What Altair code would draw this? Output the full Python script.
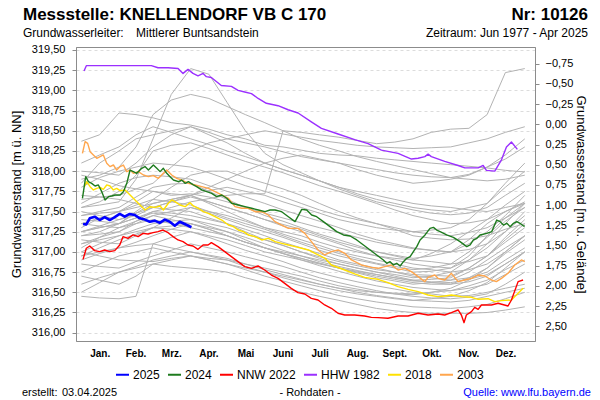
import altair as alt
import pandas as pd

FONT = "Liberation Sans"

# ---------------- data ----------------
month_days = [0, 31, 59, 90, 120, 151, 181, 212, 243, 273, 304, 334, 365]
month_mid = [15.5, 45, 74.5, 105, 135.5, 166, 196.5, 227.5, 258, 288.5, 319, 349.5]
month_labels = ["Jan.", "Feb.", "Mrz.", "Apr.", "Mai", "Juni", "Juli", "Aug.", "Sept.", "Okt.", "Nov.", "Dez."]

level_ticks = [316.00, 316.25, 316.50, 316.75, 317.00, 317.25, 317.50, 317.75,
               318.00, 318.25, 318.50, 318.75, 319.00, 319.25, 319.50]
depth_ticks = [-0.75, -0.50, -0.25, 0.00, 0.25, 0.50, 0.75, 1.00, 1.25, 1.50,
               1.75, 2.00, 2.25, 2.50]

series_names = ["2025", "2024", "NNW 2022", "HHW 1982", "2018", "2003"]
series_colors = ["#0000FF", "#1E7B1E", "#FF0000", "#9B30FF", "#FFE100", "#FFA64D"]

d2025 = [1.4, 4.1, 6.9, 11, 15.1, 19.2, 23.4, 27.5, 31.6, 35.7, 39.8, 44, 48.1, 52.2,
         56.3, 60.4, 64.5, 68.7, 72.8, 76.9, 81, 85.1, 90.6]
v2025 = [317.346, 317.34, 317.416, 317.436, 317.395, 317.43, 317.395, 317.43, 317.47,
         317.436, 317.47, 317.457, 317.416, 317.40, 317.374, 317.387, 317.36, 317.40,
         317.374, 317.325, 317.374, 317.346, 317.305]

d2024 = [0.9, 3.6, 5.8, 8.5, 11.3, 14, 16.8, 19.5, 22.3, 25, 27.7, 31.9, 34.6, 37.4, 40.1,
         42.8, 45.6, 49.7, 52.4, 55.2, 59.3, 62.1, 64.8, 67.5, 70.3, 73, 75.8, 79.9, 82.6,
         85.4, 88.1, 92.2, 94.9, 99.1, 103.2, 107.3, 111.4, 115.6, 119.7, 123.7, 129.2,
         134.7, 140.2, 145.7, 151.2, 155.3, 159.4, 164.9, 170.4, 175.9, 181.4, 185.5,
         189.6, 193.7, 199.2, 204.7, 210.2, 215.7, 221.2, 226.7, 232.2, 237.7, 243.1,
         248.6, 251.4, 254.1, 256.9, 259.6, 262.4, 265.1, 267.8, 270.6, 273.3, 276.1,
         278.8, 282.9, 287, 289.8, 292.5, 295.3, 300.7, 306.2, 311.7, 317.2, 320, 322.7,
         325.5, 328.2, 333.7, 337.8, 341.9, 344.7, 347.4, 350.2, 352.9, 355.7, 358.4,
         361.1, 363.9, 365]
v2024 = [317.664, 317.932, 317.87, 317.849, 317.816, 317.829, 317.746, 317.643, 317.684,
         317.692, 317.705, 317.705, 317.746, 317.849, 318.014, 317.994, 317.973, 318.035,
         318.056, 318.014, 318.076, 318.035, 317.994, 318.035, 317.973, 317.932, 317.89,
         317.87, 317.89, 317.849, 317.87, 317.829, 317.808, 317.767, 317.746, 317.725,
         317.684, 317.705, 317.664, 317.602, 317.581, 317.56, 317.54, 317.519, 317.498,
         317.519, 317.519, 317.498, 317.436, 317.375, 317.527, 317.519, 317.457, 317.436,
         317.375, 317.313, 317.251, 317.21, 317.197, 317.148, 317.086, 317.024, 316.962,
         316.90, 316.859, 316.879, 316.838, 316.859, 316.826, 316.879, 316.921, 316.941,
         317.003, 317.065, 317.148, 317.21, 317.292, 317.304, 317.271, 317.251, 317.21,
         317.181, 317.127, 317.065, 317.086, 317.148, 317.168, 317.21, 317.23, 317.251,
         317.395, 317.375, 317.333, 317.354, 317.313, 317.354, 317.375, 317.354, 317.321,
         317.321]

d2022 = [1.4, 4.1, 6.9, 11, 15.1, 19.2, 23.4, 27.5, 31.6, 34.3, 38.4, 42.6, 46.7, 50.8,
         54.9, 59, 63.1, 67.3, 71.4, 75.5, 79.6, 83.7, 87.8, 91.9, 96, 100.2, 104.3, 107,
         112.5, 118, 123.5, 129, 134.5, 139.9, 145.4, 150.9, 156.4, 161.9, 167.4, 172.8,
         178.3, 183.9, 189.3, 194.8, 200.3, 205.8, 211.3, 216.8, 225, 233.2, 238.7, 244.2,
         252.4, 260.7, 268.9, 277.2, 285.4, 293.6, 299.1, 304.6, 310.1, 312.8, 315, 316.9,
         321.1, 323.8, 326.6, 329.3, 337.5, 343, 351.2, 354, 359.5, 363.6]
v2022 = [316.908, 317.045, 317.073, 317.016, 317.003, 317.024, 317.003, 317.016, 317.086,
         317.189, 317.168, 317.21, 317.189, 317.23, 317.222, 317.238, 317.251, 317.271,
         317.238, 317.189, 317.148, 317.127, 317.086, 317.073, 317.032, 317.086, 317.086,
         317.115, 317.065, 317.003, 316.941, 316.879, 316.818, 316.797, 316.826, 316.776,
         316.714, 316.673, 316.611, 316.549, 316.496, 316.479, 316.425, 316.405, 316.343,
         316.302, 316.24, 316.219, 316.219, 316.207, 316.19, 316.186, 316.178, 316.207,
         316.207, 316.24, 316.219, 316.231, 316.219, 316.248, 316.281, 316.219, 316.124,
         316.219, 316.26, 316.314, 316.289, 316.343, 316.343, 316.364, 316.33, 316.405,
         316.632, 316.652]

d1982 = [2.2, 4.1, 57.6, 63.1, 71.4, 79.6, 83.7, 87.8, 91.9, 96, 100.2, 102.9, 107, 115.2,
         123.5, 129, 134.5, 140, 145.5, 152.3, 161.9, 170.2, 178.4, 189.3, 197.6, 211.3,
         225, 236, 247, 260.7, 271.7, 277.2, 282.7, 285.4, 288.1, 299.1, 310.1, 315.6,
         326.6, 330.7, 333.4, 340.3, 345.8, 349.9, 354, 358.9]
v1982 = [319.24, 319.306, 319.306, 319.28, 319.28, 319.27, 319.21, 319.26, 319.21, 319.18,
         319.21, 319.17, 319.16, 319.06, 319.05, 319.00, 318.98, 318.96, 318.90, 318.84,
         318.81, 318.76, 318.72, 318.61, 318.53, 318.46, 318.39, 318.34, 318.26, 318.22,
         318.15, 318.16, 318.18, 318.21, 318.18, 318.12, 318.07, 318.04, 318.04, 318.07,
         318.01, 318.00, 318.14, 318.30, 318.36, 318.27]

d2018 = [2.5, 4.4, 7.2, 9.9, 12.7, 15.4, 18.1, 20.9, 23.6, 26.3, 29.1, 31.9, 36, 40.1,
         44.2, 48.3, 52.4, 56.6, 60.7, 64.8, 67.5, 71.6, 74.4, 77.1, 81.2, 85.4, 89.5,
         92.2, 96.3, 100.4, 104.5, 110, 115.6, 121, 125.1, 129.2, 133.4, 137.5, 143, 148.5,
         153.9, 159.5, 165, 170.4, 175.9, 181.4, 186.9, 192.4, 197.9, 200.6, 205.8, 216.8,
         225, 233.2, 238.7, 244.2, 252.4, 260.7, 268.9, 277.2, 285.4, 293.6, 299.1, 304.6,
         312.8, 321.1, 326.6, 334.8, 340.3, 345.8, 354, 359.5, 363.6]
v2018 = [317.808, 317.87, 317.808, 317.767, 317.787, 317.80, 317.775, 317.829, 317.816,
         317.767, 317.787, 317.758, 317.767, 317.705, 317.643, 317.581, 317.519, 317.56,
         317.552, 317.569, 317.519, 317.602, 317.643, 317.622, 317.581, 317.56, 317.61,
         317.569, 317.54, 317.498, 317.478, 317.436, 317.395, 317.333, 317.313, 317.271,
         317.251, 317.21, 317.189, 317.148, 317.168, 317.127, 317.106, 317.086, 317.065,
         317.045, 317.024, 316.983, 316.941, 316.921, 316.838, 316.776, 316.727, 316.685,
         316.673, 316.661, 316.619, 316.57, 316.537, 316.508, 316.467, 316.446, 316.454,
         316.467, 316.446, 316.438, 316.413, 316.421, 316.384, 316.397, 316.405, 316.487,
         316.549]

d2003 = [0.9, 3.1, 5.2, 7.2, 9.9, 12.7, 15.4, 18.1, 20.9, 23.6, 26.4, 29.1, 31.9, 34.6,
         37.3, 40.1, 42.8, 46.9, 51.1, 55.2, 59.3, 63.4, 67.5, 70.3, 74.4, 78.5, 82.6, 88.1,
         93.6, 99.1, 104.6, 110, 115.5, 121, 126.5, 132, 137.5, 143, 148.5, 153.9, 159.4,
         164.9, 170.4, 178.4, 183.9, 189.4, 194.8, 200.3, 205.8, 211.3, 216.8, 222.3,
         230.5, 238.7, 244.2, 249.7, 255.2, 260.7, 266.2, 271.7, 277.2, 282.7, 285.4,
         290.9, 293.6, 299.1, 304.6, 310.1, 315.6, 321.1, 326.6, 332.1, 337.5, 341.6,
         345.8, 351.2, 356.7, 362.2, 365]
v2003 = [318.221, 318.365, 318.344, 318.241, 318.20, 318.159, 318.179, 318.20, 318.097,
         318.056, 318.076, 318.014, 318.056, 318.076, 317.994, 318.014, 317.973, 317.994,
         317.952, 317.932, 317.944, 317.911, 317.973, 318.014, 317.952, 317.911, 317.89,
         317.849, 317.829, 317.808, 317.787, 317.746, 317.705, 317.664, 317.56, 317.54,
         317.54, 317.498, 317.498, 317.457, 317.375, 317.333, 317.292, 317.292, 317.23,
         317.127, 317.024, 316.962, 317.003, 317.024, 316.983, 316.90, 316.838, 316.809,
         316.797, 316.818, 316.838, 316.776, 316.797, 316.756, 316.694, 316.632, 316.685,
         316.714, 316.673, 316.652, 316.735, 316.632, 316.652, 316.673, 316.714, 316.702,
         316.652, 316.632, 316.673, 316.735, 316.838, 316.90, 316.879]

# other years (grey), read roughly every half month
gray_days = [0, 15, 31, 45, 59, 74, 90, 105, 120, 135, 151, 166, 181, 196, 212, 227,
             243, 258, 273, 288, 304, 319, 334, 349, 365]
gray_lines = [
    [318.37, 318.45, 318.72, 318.70, 318.66, 318.60, 318.57, 318.52, 318.45, 318.40, 318.32, 318.30, 318.26, 318.22, 318.20, 318.19, 318.16, 318.14, 318.12, 318.10, 318.08, 318.06, 318.04, 318.01, 317.99],
    [317.55, 317.58, 317.62, 317.90, 318.40, 318.95, 319.27, 319.20, 318.85, 318.50, 318.22, 318.08, 317.98, 317.88, 317.78, 317.70, 317.62, 317.57, 317.52, 317.48, 317.46, 317.48, 317.55, 317.70, 317.85],
    [317.25, 317.30, 317.35, 317.42, 317.50, 317.55, 317.62, 317.66, 317.70, 317.72, 317.72, 318.50, 318.48, 318.45, 318.42, 318.38, 318.34, 318.36, 318.40, 318.48, 318.52, 318.53, 318.70, 319.22, 319.27],
    [317.90, 317.95, 318.05, 318.30, 318.70, 318.88, 318.95, 318.90, 318.80, 318.70, 318.60, 318.50, 318.40, 318.32, 318.25, 318.18, 318.12, 318.07, 318.02, 317.97, 317.92, 317.90, 317.88, 317.90, 317.95],
    [317.85, 318.10, 318.25, 318.40, 318.45, 318.50, 318.55, 318.48, 318.40, 318.35, 318.30, 318.24, 318.18, 318.14, 318.10, 318.06, 318.02, 317.98, 317.95, 317.93, 317.92, 317.96, 318.05, 318.20, 318.40],
    [318.00, 317.98, 317.95, 318.10, 318.30, 318.45, 318.55, 318.45, 318.35, 318.22, 318.10, 318.02, 317.95, 317.88, 317.80, 317.75, 317.70, 317.65, 317.60, 317.57, 317.55, 317.52, 317.50, 317.55, 317.60],
    [318.10, 318.20, 318.30, 318.45, 318.55, 318.48, 318.40, 318.33, 318.25, 318.18, 318.10, 318.02, 317.95, 317.88, 317.80, 317.72, 317.65, 317.60, 317.55, 317.52, 317.50, 317.55, 317.60, 317.80, 318.00],
    [317.65, 317.68, 317.70, 317.78, 317.85, 318.05, 318.25, 318.35, 318.40, 318.45, 318.50, 318.46, 318.42, 318.38, 318.35, 318.32, 318.30, 318.29, 318.28, 318.29, 318.30, 318.35, 318.40, 318.48, 318.55],
    [317.45, 317.48, 317.50, 317.55, 317.60, 317.65, 317.70, 317.80, 317.90, 318.00, 318.10, 318.16, 318.20, 318.15, 318.10, 318.02, 317.95, 317.90, 317.85, 317.87, 317.90, 317.95, 318.05, 318.15, 318.30],
    [317.80, 317.92, 318.00, 318.05, 318.10, 318.08, 318.05, 317.98, 317.90, 317.82, 317.75, 317.68, 317.60, 317.52, 317.45, 317.40, 317.35, 317.30, 317.25, 317.22, 317.20, 317.24, 317.30, 317.42, 317.55],
    [317.55, 317.62, 317.75, 317.95, 318.25, 318.32, 318.35, 318.28, 318.20, 318.12, 318.05, 317.98, 317.90, 317.82, 317.75, 317.68, 317.60, 317.52, 317.45, 317.40, 317.35, 317.36, 317.40, 317.50, 317.60],
    [317.40, 317.38, 317.35, 317.50, 317.65, 317.80, 317.95, 318.00, 318.00, 317.92, 317.85, 317.78, 317.70, 317.60, 317.50, 317.42, 317.35, 317.28, 317.20, 317.17, 317.15, 317.16, 317.20, 317.28, 317.35],
    [317.70, 317.68, 317.65, 317.60, 317.55, 317.62, 317.70, 317.76, 317.80, 317.75, 317.70, 317.62, 317.55, 317.48, 317.40, 317.35, 317.30, 317.27, 317.25, 317.27, 317.30, 317.40, 317.60, 317.85, 318.10],
    [317.60, 317.72, 317.85, 317.92, 317.95, 317.93, 317.90, 317.82, 317.75, 317.68, 317.60, 317.52, 317.45, 317.38, 317.30, 317.22, 317.15, 317.10, 317.05, 317.02, 317.00, 317.03, 317.10, 317.25, 317.45],
    [317.95, 317.90, 317.82, 317.78, 317.75, 317.70, 317.72, 317.68, 317.62, 317.55, 317.48, 317.42, 317.36, 317.30, 317.24, 317.18, 317.12, 317.08, 317.04, 317.02, 317.00, 317.10, 317.25, 317.45, 317.70],
    [317.45, 317.50, 317.55, 317.68, 317.80, 317.84, 317.85, 317.75, 317.65, 317.55, 317.45, 317.38, 317.30, 317.22, 317.15, 317.08, 317.00, 316.95, 316.90, 316.88, 316.85, 316.88, 316.95, 317.15, 317.35],
    [317.30, 317.42, 317.50, 317.62, 317.75, 317.72, 317.70, 317.62, 317.55, 317.48, 317.40, 317.32, 317.25, 317.18, 317.10, 317.02, 316.95, 316.90, 316.85, 316.82, 316.80, 316.90, 317.05, 317.25, 317.50],
    [317.20, 317.25, 317.35, 317.48, 317.60, 317.65, 317.70, 317.60, 317.50, 317.40, 317.30, 317.22, 317.15, 317.08, 317.00, 316.95, 316.90, 316.85, 316.80, 316.78, 316.75, 316.78, 316.85, 317.00, 317.20],
    [317.35, 317.32, 317.30, 317.38, 317.45, 317.50, 317.55, 317.48, 317.40, 317.32, 317.25, 317.18, 317.10, 317.02, 316.95, 316.90, 316.85, 316.80, 316.75, 316.76, 316.80, 316.95, 317.20, 317.42, 317.60],
    [317.10, 317.18, 317.25, 317.38, 317.50, 317.48, 317.45, 317.40, 317.35, 317.28, 317.20, 317.12, 317.05, 316.98, 316.90, 316.85, 316.80, 316.75, 316.70, 316.68, 316.65, 316.68, 316.75, 316.90, 317.05],
    [317.00, 317.10, 317.20, 317.28, 317.35, 317.38, 317.40, 317.35, 317.30, 317.22, 317.15, 317.08, 317.00, 316.92, 316.85, 316.80, 316.75, 316.70, 316.65, 316.62, 316.60, 316.63, 316.70, 316.85, 317.00],
    [317.15, 317.12, 317.10, 317.20, 317.30, 317.42, 317.55, 317.50, 317.45, 317.38, 317.30, 317.25, 317.20, 317.12, 317.05, 317.00, 316.95, 316.92, 316.90, 316.98, 317.10, 317.25, 317.40, 317.58, 317.75],
    [316.95, 317.05, 317.15, 317.22, 317.30, 317.28, 317.25, 317.20, 317.15, 317.08, 317.00, 316.95, 316.90, 316.85, 316.80, 316.75, 316.70, 316.66, 316.62, 316.60, 316.60, 316.68, 316.80, 316.98, 317.15],
    [317.25, 317.32, 317.40, 317.48, 317.55, 317.52, 317.50, 317.42, 317.35, 317.25, 317.15, 317.08, 317.00, 316.94, 316.88, 316.83, 316.78, 316.75, 316.72, 316.71, 316.70, 316.80, 316.95, 317.12, 317.30],
    [316.90, 316.98, 317.05, 317.12, 317.20, 317.28, 317.35, 317.30, 317.25, 317.18, 317.10, 317.02, 316.95, 316.88, 316.82, 316.77, 316.72, 316.68, 316.65, 316.66, 316.68, 316.80, 316.95, 317.18, 317.40],
    [317.50, 317.45, 317.40, 317.45, 317.55, 317.62, 317.68, 317.62, 317.55, 317.48, 317.40, 317.34, 317.28, 317.20, 317.12, 317.06, 317.00, 316.96, 316.92, 316.95, 317.00, 317.15, 317.35, 317.50, 317.62],
    [317.05, 317.18, 317.30, 317.35, 317.40, 317.35, 317.30, 317.25, 317.20, 317.12, 317.05, 317.00, 316.95, 316.90, 316.85, 316.80, 316.75, 316.72, 316.68, 316.70, 316.75, 316.90, 317.10, 317.35, 317.60],
    [317.25, 317.30, 317.35, 317.42, 317.48, 317.45, 317.40, 317.32, 317.25, 317.15, 317.05, 316.98, 316.90, 316.83, 316.76, 316.70, 316.64, 316.60, 316.56, 316.54, 316.52, 316.55, 316.60, 316.72, 316.85],
    [317.10, 317.15, 317.20, 317.25, 317.30, 317.32, 317.35, 317.28, 317.20, 317.12, 317.05, 316.98, 316.92, 316.86, 316.80, 316.74, 316.68, 316.64, 316.60, 316.62, 316.65, 316.75, 316.90, 317.05, 317.20],
    [317.35, 317.42, 317.50, 317.58, 317.65, 317.62, 317.58, 317.50, 317.42, 317.35, 317.28, 317.20, 317.12, 317.05, 316.98, 316.92, 316.86, 316.82, 316.78, 316.80, 316.85, 317.00, 317.18, 317.38, 317.55],
    [317.20, 317.22, 317.25, 317.35, 317.45, 317.40, 317.35, 317.28, 317.20, 317.12, 317.05, 316.98, 316.92, 316.86, 316.80, 316.76, 316.72, 316.68, 316.64, 316.63, 316.62, 316.66, 316.72, 316.85, 317.00],
    [316.45, 316.43, 316.42, 316.45, 317.10, 317.18, 317.25, 317.18, 317.10, 317.02, 316.95, 316.88, 316.80, 316.74, 316.68, 316.63, 316.58, 316.54, 316.50, 316.48, 316.45, 316.46, 316.50, 316.55, 316.60],
    [316.50, 316.62, 316.75, 316.80, 316.85, 316.82, 316.80, 316.78, 316.75, 316.68, 316.62, 316.56, 316.50, 316.45, 316.40, 316.35, 316.30, 316.27, 316.25, 316.24, 316.24, 316.24, 316.25, 316.28, 316.32],
    [316.75, 316.85, 316.95, 317.00, 317.05, 317.00, 316.95, 316.90, 316.85, 316.80, 316.75, 316.68, 316.62, 316.57, 316.52, 316.48, 316.45, 316.42, 316.40, 316.39, 316.38, 316.40, 316.45, 316.50, 316.55],
    [316.85, 316.82, 316.80, 316.88, 316.95, 317.02, 317.10, 317.05, 317.00, 316.94, 316.88, 316.82, 316.75, 316.68, 316.62, 316.57, 316.52, 316.48, 316.45, 316.43, 316.42, 316.44, 316.48, 316.60, 316.75],
    [317.00, 316.95, 316.90, 316.89, 316.88, 316.92, 316.95, 316.92, 316.90, 316.85, 316.80, 316.75, 316.70, 316.64, 316.58, 316.54, 316.50, 316.49, 316.48, 316.50, 316.52, 316.58, 316.65, 316.78, 316.90],
    [316.70, 316.65, 316.60, 316.70, 316.85, 316.90, 316.95, 316.90, 316.85, 316.78, 316.70, 316.64, 316.58, 316.52, 316.46, 316.42, 316.38, 316.35, 316.32, 316.31, 316.30, 316.32, 316.35, 316.42, 316.50],
    [316.95, 317.00, 317.05, 317.08, 317.10, 317.05, 317.00, 316.95, 316.90, 316.82, 316.75, 316.70, 316.65, 316.60, 316.55, 316.52, 316.50, 316.48, 316.47, 316.50, 316.55, 316.65, 316.80, 317.00, 317.20],
    [316.60, 316.68, 316.75, 316.82, 316.90, 316.95, 317.00, 316.96, 316.92, 316.85, 316.78, 316.72, 316.66, 316.60, 316.55, 316.50, 316.46, 316.43, 316.40, 316.42, 316.45, 316.52, 316.62, 316.80, 317.00],
]

# ---------------- tables ----------------
rows = []
for i, vals in enumerate(gray_lines):
    for d, v in zip(gray_days, vals):
        rows.append({"line": i, "day": d, "value": v})
gray_df = pd.DataFrame(rows)

colored = {
    "2025": (d2025, v2025), "2024": (d2024, v2024), "NNW 2022": (d2022, v2022),
    "HHW 1982": (d1982, v1982), "2018": (d2018, v2018), "2003": (d2003, v2003),
}
crow = []
for name, (dd, vv) in colored.items():
    for d, v in zip(dd, vv):
        crow.append({"series": name, "day": d, "value": v})
col_df = pd.DataFrame(crow)
month_df = pd.DataFrame({"day": month_mid, "label": month_labels})

# ---------------- scales / axes ----------------
OX, OY = 76, 47
W, H = 459, 294
GRID = "#DCDCDC"
FRAME = "#8C8C8C"

x_scale = alt.Scale(domain=[-4.4, 373.4], nice=False, zero=False)
y_scale = alt.Scale(domain=[315.897, 319.537], nice=False, zero=False)

x_axis = alt.Axis(
    values=month_days, labels=False, grid=True, gridDash=[3, 3], gridColor=GRID,
    tickSize=4, tickColor=FRAME, domainColor=FRAME, title=None,
)
y_axis = alt.Axis(
    values=level_ticks, labelExpr="replace(format(datum.value, '.2f'), '.', ',')",
    grid=True, gridDash=[3, 3], gridColor=GRID, tickSize=4, tickColor=FRAME,
    domainColor=FRAME, labelFont=FONT, labelFontSize=11, labelColor="black",
    labelPadding=7, title="Grundwasserstand [m ü. NN]", titleFont=FONT,
    titleFontSize=13, titleFontWeight="normal", titleColor="black",
    titleAngle=270, titleX=-60, titleY=H / 2, titleAlign="center",
    titleBaseline="middle", labelOverlap=False,
)

X = alt.X("day:Q", scale=x_scale, axis=x_axis)
Y = alt.Y("value:Q", scale=y_scale, axis=y_axis)

gray = alt.Chart(gray_df).mark_line(color="#B3B3B3", strokeWidth=1).encode(
    x=X, y=Y, detail="line:N", order="day:Q")

legend = alt.Legend(
    title=None, orient="none", direction="horizontal", legendX=39, legendY=320,
    symbolType="stroke", symbolSize=169, symbolStrokeWidth=2, labelFont=FONT,
    labelFontSize=12, labelColor="black", labelOffset=3, columnPadding=4,
)
color = alt.Color("series:N", scale=alt.Scale(domain=series_names, range=series_colors),
                  legend=legend)

layers = [gray]
for name in ["2003", "2018", "HHW 1982", "NNW 2022", "2024", "2025"]:
    sw = 2.6 if name == "2025" else 1.4
    layers.append(
        alt.Chart(col_df).transform_filter(alt.datum.series == name)
        .mark_line(strokeWidth=sw, strokeJoin="round")
        .encode(x=X, y=Y, color=color, order="day:Q")
    )

months = alt.Chart(month_df).mark_text(
    font=FONT, fontSize=10, fontWeight="bold", color="black", baseline="alphabetic",
    align="center",
).encode(x=alt.X("day:Q", scale=x_scale, axis=None), y=alt.value(H + 16), text="label:N")
layers.append(months)
main = alt.layer(*layers)

depth_df = pd.DataFrame({"d": [-0.957, 2.682]})
right = alt.Chart(depth_df).mark_point(opacity=0).encode(
    y=alt.Y("d:Q", scale=alt.Scale(domain=[-0.957, 2.682], reverse=True, nice=False, zero=False),
            axis=alt.Axis(orient="right", values=depth_ticks,
                          labelExpr="replace(format(datum.value, '.2f'), '.', ',')",
                          grid=False, tickSize=4, tickColor=FRAME, domainColor=FRAME,
                          labelFont=FONT, labelFontSize=11, labelColor="black",
                          labelPadding=6, title="Grundwasserstand [m u. Gelände]",
                          titleFont=FONT, titleFontSize=13, titleFontWeight="normal",
                          titleColor="black", titleAngle=90, titleX=45, titleY=H / 2,
                          titleAlign="center", titleBaseline="middle", labelOverlap=False)))


def txt(s, x, y, size=11, align="left", weight="normal", color="black"):
    return alt.Chart(pd.DataFrame({"t": [s]})).mark_text(
        text=s, align=align, baseline="alphabetic", font=FONT, fontSize=size,
        fontWeight=weight, color=color,
    ).encode(x=alt.value(x), y=alt.value(y))


texts = [
    txt("Messstelle: KNELLENDORF VB C 170", 23 - OX, 20 - OY, 17, weight="bold"),
    txt("Nr: 10126", 588 - OX, 20 - OY, 17, align="right", weight="bold"),
    txt("Grundwasserleiter:", 23 - OX, 37 - OY, 12),
    txt("Mittlerer Buntsandstein", 136 - OX, 37 - OY, 12),
    txt("Zeitraum: Jun 1977 - Apr 2025", 588 - OX, 37 - OY, 12, align="right"),
    txt("erstellt:", 22 - OX, 396 - OY, 11),
    txt("03.04.2025", 62 - OX, 396 - OY, 11),
    txt("- Rohdaten -", 310 - OX, 396 - OY, 11, align="center"),
    txt("Quelle: www.lfu.bayern.de", 591 - OX, 396 - OY, 11, align="right", color="#0000FF"),
]

chart = alt.layer(main, right, *texts).resolve_scale(y="independent").properties(
    width=W, height=H,
    autosize=alt.AutoSizeParams(type="none"),
    padding={"left": OX, "top": OY, "right": 600 - OX - W, "bottom": 400 - OY - H},
    background="white",
).configure_view(stroke=FRAME, strokeWidth=1)

chart.save("out.html", embed_options={"renderer": "svg", "actions": False})
